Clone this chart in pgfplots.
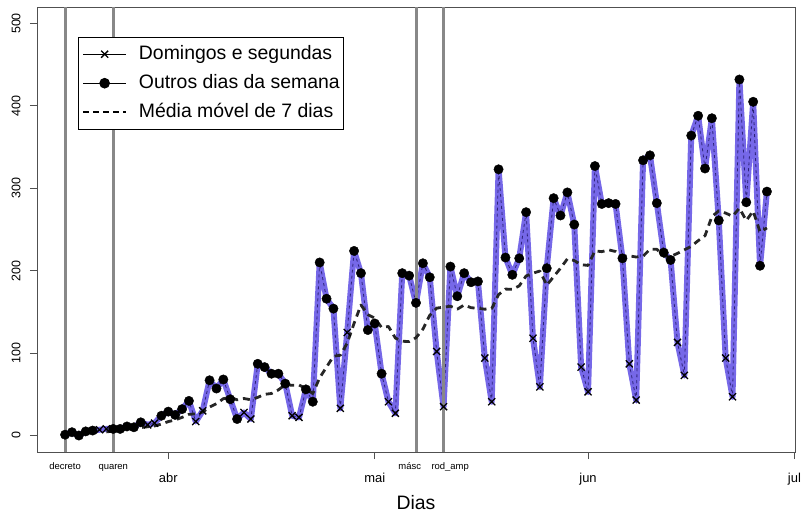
\documentclass[border=0pt]{standalone}
\usepackage{pgfplots}
\pgfplotsset{compat=1.18}
\usepackage{pgfplotstable}
\usepackage{fontspec}
\setmainfont{Liberation Sans}
\usetikzlibrary{calc}
\definecolor{pline}{RGB}{118,104,232}
\definecolor{pdash}{RGB}{45,35,120}
\definecolor{vgray}{RGB}{136,136,136}
\definecolor{axgray}{RGB}{80,80,80}

% day index: 0 = 1 April 2020
\pgfplotstableread{
d v
-15 1
-14 4
-13 0
-12 5
-11 6
-10 7
-9 8
-8 8
-7 8
-6 11
-5 10
-4 16
-3 13
-2 15
-1 24
0 29
1 25
2 32
3 42
4 17
5 30
6 67
7 57
8 68
9 44
10 20
11 28
12 20
13 87
14 83
15 75
16 75
17 63
18 24
19 22
20 56
21 41
22 210
23 166
24 154
25 33
26 125
27 224
28 197
29 128
30 136
31 75
32 41
33 27
34 197
35 194
36 161
37 209
38 192
39 102
40 35
41 205
42 169
43 197
44 186
45 187
46 94
47 41
48 323
49 216
50 195
51 215
52 271
53 118
54 59
55 203
56 288
57 267
58 295
59 256
60 83
61 53
62 327
63 281
64 282
65 281
66 215
67 87
68 43
69 334
70 340
71 282
72 222
73 213
74 113
75 73
76 364
77 388
78 324
79 385
80 261
81 94
82 47
83 432
84 283
85 405
86 206
87 296
}\alldata

\pgfplotstableread{
d v
-10 7
-9 8
-3 13
-2 15
4 17
5 30
11 28
12 20
18 24
19 22
25 33
26 125
32 41
33 27
39 102
40 35
46 94
47 41
53 118
54 59
60 83
61 53
67 87
68 43
74 113
75 73
81 94
82 47
}\sunmon

\pgfplotstableread{
d v
-15 1
-14 4
-13 0
-12 5
-11 6
-8 8
-7 8
-6 11
-5 10
-4 16
-1 24
0 29
1 25
2 32
3 42
6 67
7 57
8 68
9 44
10 20
13 87
14 83
15 75
16 75
17 63
20 56
21 41
22 210
23 166
24 154
27 224
28 197
29 128
30 136
31 75
34 197
35 194
36 161
37 209
38 192
41 205
42 169
43 197
44 186
45 187
48 323
49 216
50 195
51 215
52 271
55 203
56 288
57 267
58 295
59 256
62 327
63 281
64 282
65 281
66 215
69 334
70 340
71 282
72 222
73 213
76 364
77 388
78 324
79 385
80 261
83 432
84 283
85 405
86 206
87 296
}\others

\pgfplotstableread{
d v
-9 4.4
-8 5.4
-7 6.0
-6 7.6
-5 8.3
-4 9.7
-3 10.6
-2 11.6
-1 13.9
0 16.9
1 18.9
2 22.0
3 25.7
4 26.3
5 28.4
6 34.6
7 38.6
8 44.7
9 46.4
10 43.3
11 44.9
12 43.4
13 46.3
14 50.0
15 51.0
16 55.4
17 61.6
18 61.0
19 61.3
20 56.9
21 50.9
22 70.1
23 83.1
24 96.1
25 97.4
26 112.1
27 136.1
28 158.4
29 146.7
30 142.4
31 131.1
32 132.3
33 118.3
34 114.4
35 114.0
36 118.7
37 129.1
38 145.9
39 154.6
40 155.7
41 156.9
42 153.3
43 158.4
44 155.1
45 154.4
46 153.3
47 154.1
48 171.0
49 177.7
50 177.4
51 181.6
52 193.6
53 197.0
54 199.6
55 182.4
56 192.7
57 203.0
58 214.4
59 212.3
60 207.3
61 206.4
62 224.1
63 223.1
64 225.3
65 223.3
66 217.4
67 218.0
68 216.6
69 217.6
70 226.0
71 226.0
72 217.6
73 217.3
74 221.0
75 225.3
76 229.6
77 236.4
78 242.4
79 265.7
80 272.6
81 269.9
82 266.1
83 275.9
84 260.9
85 272.4
86 246.9
87 251.9
}\madata

\begin{document}
\begin{tikzpicture}
\begin{axis}[
  name=ax,
  scale only axis,
  width=758bp, height=445bp,
  xmin=-19.08, xmax=91.08,
  ymin=-20, ymax=520,
  axis line style={axgray, line width=0.8bp},
  tick style={axgray, line width=0.8bp},
  major tick length=7bp,
  tick align=outside,
  xtick pos=lower, ytick pos=left,
  xtick={0,30,61,91},
  xticklabels={abr,mai,jun,jul},
  xticklabel style={font=\fontsize{13}{15}\selectfont, yshift=-11bp, text height=9bp, text depth=3bp},
  extra x ticks={-15,-8,36,40},
  extra x tick labels={decreto,quaren,\makebox[0pt][r]{másc\hspace{-5bp}},\makebox[0pt][l]{\hspace{-12bp}rod\_amp}},
  extra x tick style={major tick length=0pt,
    xticklabel style={font=\fontsize{9.5}{11}\selectfont, yshift=4bp, text height=7bp, text depth=2bp}},
  ytick={0,100,200,300,400,500},
  yticklabel style={font=\fontsize{12.5}{14}\selectfont, xshift=-6bp, rotate=90, anchor=south},
  /pgf/number format/assume math mode=true,
  xlabel={Dias},
  xlabel style={font=\fontsize{19.5}{22}\selectfont, at={(axis description cs:0.5,-0.1146)}, anchor=center},
  legend image code/.code={\draw[mark repeat=2,mark phase=2,#1] plot coordinates {(0bp,0bp) (21.5bp,0bp) (43bp,0bp)};},
  legend style={at={(axis description cs:0.054,0.933)}, anchor=north west,
    draw=black, line width=0.8bp,
    font=\fontsize{19.5}{22}\selectfont,
    inner xsep=4bp, inner ysep=8bp,
    column sep=12bp, row sep=11bp,
    nodes={inner sep=0bp, text height=14bp, text depth=4bp}},
  legend cell align=left,
]
% thick purple series line
\addplot[pline, line width=6bp, line join=round, line cap=round, forget plot] table[x=d, y=v] {\alldata};
\addplot[pdash, line width=0.8bp, dash pattern=on 3bp off 3bp, forget plot] table[x=d, y=v] {\alldata};
% event lines
\addplot[vgray, line width=3bp, forget plot] coordinates {(-15,-20) (-15,520)};
\addplot[vgray, line width=3bp, forget plot] coordinates {(-8,-20) (-8,520)};
\addplot[vgray, line width=3bp, forget plot] coordinates {(36,-20) (36,520)};
\addplot[vgray, line width=3bp, forget plot] coordinates {(40,-20) (40,520)};
% moving average
\addplot[black!85, line width=2.8bp, line join=round, dash pattern=on 7bp off 5bp, forget plot] table[x=d, y=v] {\madata};
% markers
\addplot[only marks, mark=x, mark size=5bp, mark options={black, line width=1.3bp}, forget plot] table[x=d, y=v] {\sunmon};
\addplot[only marks, mark=*, mark size=4.7bp, mark options={black, fill=black}, forget plot] table[x=d, y=v] {\others};
% legend entries
\addlegendimage{black, line width=1.2bp, mark=x, mark size=5bp, mark options={line width=1.3bp}}
\addlegendentry{Domingos e segundas}
\addlegendimage{black, line width=1.2bp, mark=*, mark size=4.7bp}
\addlegendentry{Outros dias da semana}
\addlegendimage{black, line width=1.6bp, dash pattern=on 6bp off 4bp}
\addlegendentry{Média móvel de 7 dias}
\node[font=\fontsize{12.5}{14}\selectfont, anchor=west] at (axis description cs:-0.0356,-0.1236) {Elaboração: AGPatriota};
\end{axis}
\pgfresetboundingbox
\path[use as bounding box] ($(ax.south west)+(-37bp,-61bp)$) rectangle ($(ax.north east)+(8bp,7bp)$);
\end{tikzpicture}
\end{document}
